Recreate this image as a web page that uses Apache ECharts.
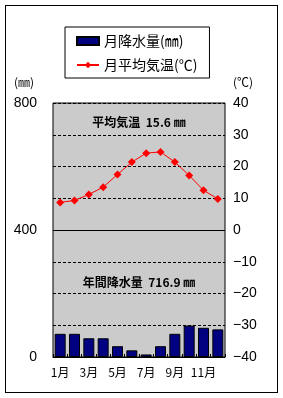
<!DOCTYPE html>
<html>
<head>
<meta charset="utf-8">
<script src="https://cdn.jsdelivr.net/npm/echarts@6/dist/echarts.min.js"></script>
<style>
  html, body { margin: 0; padding: 0; background: #fff; }
  #chart { width: 283px; height: 398px; }
  #frame { position: absolute; left: 5px; top: 5px; width: 273px; height: 388px; border: 1px solid #000; box-sizing: border-box; pointer-events: none; }
</style>
</head>
<body>
<div id="chart"></div>
<div id="frame"></div>
<script>
// 月
const months = ["1月", "2月", "3月", "4月", "5月", "6月", "7月", "8月", "9月", "10月", "11月", "12月"];
// 月降水量(㎜)
const precip = [73, 73, 59, 59, 34, 21, 8, 34, 73, 99, 92, 87];
// 月平均気温(℃)
const temp = [8.7, 9.3, 11.2, 13.5, 17.5, 21.4, 24.2, 24.6, 21.4, 17.2, 12.5, 9.8];
// 注記
const tempNote = "平均気温  15.6 ㎜";
const precipNote = "年間降水量  716.9 ㎜";

const FONT = "'Noto Sans CJK JP', sans-serif";
const NUM_FONT = "'Liberation Sans', Arial, sans-serif";

const chart = echarts.init(document.getElementById("chart"));
const option = {
  animation: false,
  backgroundColor: "#fff",
  textStyle: { fontFamily: FONT, color: "#000" },
  legend: {
    left: 65,
    top: 27,
    orient: "vertical",
    backgroundColor: "#fff",
    borderColor: "#000",
    borderWidth: 1,
    padding: [6, 12, 5, 11],
    itemGap: 8,
    itemWidth: 22,
    itemHeight: 8,
    textStyle: { fontSize: 14, fontFamily: FONT, color: "#000", lineHeight: 16 },
    data: [
      { name: "月降水量(㎜)", icon: "rect" },
      { name: "月平均気温(℃)" },
    ],
  },
  grid: {
    left: 53,
    right: 58,
    top: 103,
    bottom: 41,
    show: true,
    backgroundColor: "#cbcbcb",
    borderColor: "#000",
    borderWidth: 1,
  },
  xAxis: {
    type: "category",
    data: months,
    axisLine: { lineStyle: { color: "#000", width: 1 } },
    axisTick: { show: true, inside: true, length: 3, interval: 0, lineStyle: { color: "#000" } },
    axisLabel: { interval: 1, fontSize: 12, color: "#000", margin: 9, fontFamily: FONT },
    splitLine: { show: false },
  },
  yAxis: [
    {
      type: "value",
      min: 0,
      max: 800,
      interval: 400,
      position: "left",
      axisLine: { show: false },
      axisTick: { show: false },
      axisLabel: { fontSize: 14, color: "#000", margin: 16, fontFamily: NUM_FONT },
      splitLine: { show: false },
    },
    {
      type: "value",
      min: -40,
      max: 40,
      interval: 10,
      position: "right",
      axisLine: { show: false },
      axisTick: { show: false },
      axisLabel: {
        fontSize: 14,
        color: "#000",
        margin: 8,
        fontFamily: NUM_FONT,
        formatter: (v) => (v < 0 ? "\u2212" + Math.abs(v) : String(v)),
      },
      splitLine: { show: true, lineStyle: { color: "#000", width: 1, type: [3, 2] } },
    },
  ],
  graphic: [
    { type: "text", left: 14, top: 76, style: { text: "(㎜)", font: "12px " + FONT, fill: "#000" } },
    { type: "text", left: 233, top: 76, style: { text: "(℃)", font: "12px " + FONT, fill: "#000" } },
    {
      type: "text", x: 139, y: 122,
      style: { text: tempNote, font: "bold 12px " + FONT, fill: "#000", align: "center", verticalAlign: "middle" },
    },
    {
      type: "text", x: 139, y: 282,
      style: { text: precipNote, font: "bold 12px " + FONT, fill: "#000", align: "center", verticalAlign: "middle" },
    },
  ],
  series: [
    {
      name: "月降水量(㎜)",
      type: "bar",
      yAxisIndex: 0,
      data: precip,
      barWidth: 11,
      itemStyle: { color: "#000080", borderColor: "#000", borderWidth: 1 },
    },
    {
      name: "月平均気温(℃)",
      type: "line",
      yAxisIndex: 1,
      data: temp,
      symbol: "diamond",
      symbolSize: 8,
      lineStyle: { color: "#ff0000", width: 1 },
      itemStyle: { color: "#ff0000" },
      markLine: {
        silent: true,
        symbol: "none",
        label: { show: false },
        lineStyle: { color: "#000", width: 1, type: "solid" },
        data: [{ yAxis: 0 }],
      },
    },
  ],
};
chart.setOption(option);
</script>
</body>
</html>
